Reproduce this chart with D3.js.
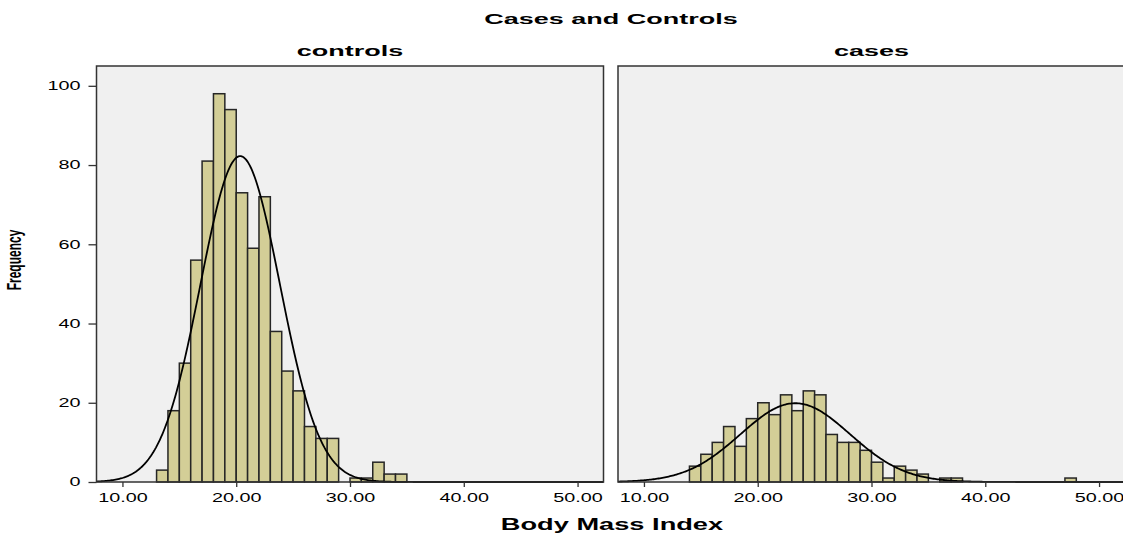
<!DOCTYPE html>
<html>
<head>
<meta charset="utf-8">
<script src="https://cdn.jsdelivr.net/npm/d3@7"></script>
<style>
    body { margin: 0; background: #fff; }
    #visualization { width: 1123px; height: 533px; }
    text { font-family: "Liberation Sans", Arial, sans-serif; fill: #000; }
</style>
</head>
<body>
<div id="visualization"></div>
<script>
// ---------DATA---------
// lower edge of each 1-unit BMI bin and its frequency
var controlsLower = [13, 14, 15, 16, 17, 18, 19, 20, 21, 22, 23, 24, 25, 26, 27, 28, 30, 31, 32, 33, 34];
var controlsCount = [3, 18, 30, 56, 81, 98, 94, 73, 59, 72, 38, 28, 23, 14, 11, 11, 1, 1, 5, 2, 2];

var casesLower = [14, 15, 16, 17, 18, 19, 20, 21, 22, 23, 24, 25, 26, 27, 28, 29, 30, 31, 32, 33, 34, 36, 37, 47];
var casesCount = [4, 7, 10, 14, 9, 16, 20, 17, 22, 18, 23, 22, 12, 10, 10, 8, 5, 1, 4, 3, 2, 1, 1, 1];

var panelNames = ["controls", "cases"];
var xTicks = [10, 20, 30, 40, 50];
var yTicks = [0, 20, 40, 60, 80, 100];

var width = 1123;
var height = 533;

var svg = d3.select("#visualization").append("svg")
    .attr("width", width)
    .attr("height", height);

var y = d3.scaleLinear()
    .domain([0, 105])
    .range([482, 66]);

var panels = [
    { name: panelNames[0], lower: controlsLower, count: controlsCount, left: 96.5 },
    { name: panelNames[1], lower: casesLower, count: casesCount, left: 618 }
];

// the reference is stretched sideways, so its text is too
function stretchedText(x, yPos, str, size, weight, scaleX) {
    return svg.append("g")
        .attr("transform", "translate(" + x + "," + yPos + ") scale(" + scaleX + ",1)")
        .append("text")
        .attr("text-anchor", "middle")
        .style("font-size", size + "px")
        .style("font-weight", weight)
        .text(str);
}

// ---------TITLES---------
stretchedText(611, 24, "Cases and Controls", 15, "bold", 1.8);
stretchedText(612, 530, "Body Mass Index", 16.5, "bold", 1.65);

svg.append("g")
    .attr("transform", "translate(21,260) scale(1.75,1) rotate(-90)")
    .append("text")
    .attr("text-anchor", "middle")
    .style("font-size", "12px")
    .style("font-weight", "bold")
    .text("Frequency");

// ---------PANELS---------
panels.forEach(function(p, i) {
    var x = d3.scaleLinear()
        .domain([7.72, 52.28])
        .range([p.left, p.left + 507]);

    var bins = p.lower.map(function(lo, j) {
        return { lo: lo, hi: lo + 1, n: p.count[j] };
    });

    var total = d3.sum(bins, function(d) { return d.n; });
    var mean = d3.sum(bins, function(d) { return d.n * (d.lo + 0.5); }) / total;
    var variance = d3.sum(bins, function(d) {
        return d.n * Math.pow(d.lo + 0.5 - mean, 2);
    }) / (total - 1);
    var sd = Math.sqrt(variance);

    var g = svg.append("g").attr("class", "panel");

    g.append("rect")
        .attr("x", x.range()[0])
        .attr("y", y.range()[1])
        .attr("width", x.range()[1] - x.range()[0])
        .attr("height", y.range()[0] - y.range()[1])
        .attr("fill", "#f0f0f0");

    g.selectAll(".bar")
        .data(bins)
        .enter().append("rect")
        .attr("class", "bar")
        .attr("x", function(d) { return x(d.lo); })
        .attr("y", function(d) { return y(d.n); })
        .attr("width", function(d) { return x(d.hi) - x(d.lo); })
        .attr("height", function(d) { return y(0) - y(d.n); })
        .attr("fill", "#d3ce97")
        .attr("stroke", "#262626")
        .attr("stroke-width", 1.5);

    // normal curve scaled to counts per 1-unit bin
    var pts = d3.range(0, 401).map(function(k) {
        var v = x.domain()[0] + k * (x.domain()[1] - x.domain()[0]) / 400;
        var f = total / (sd * Math.sqrt(2 * Math.PI)) * Math.exp(-0.5 * Math.pow((v - mean) / sd, 2));
        return [v, f];
    });

    g.append("path")
        .datum(pts)
        .attr("fill", "none")
        .attr("stroke", "#000")
        .attr("stroke-width", 1.8)
        .attr("d", d3.line()
            .x(function(d) { return x(d[0]); })
            .y(function(d) { return y(d[1]); }));

    g.append("rect")
        .attr("x", x.range()[0])
        .attr("y", y.range()[1])
        .attr("width", x.range()[1] - x.range()[0])
        .attr("height", y.range()[0] - y.range()[1])
        .attr("fill", "none")
        .attr("stroke", "#333")
        .attr("stroke-width", 1.5);

    var xAxis = g.append("g")
        .attr("transform", "translate(0," + y(0) + ")")
        .call(d3.axisBottom(x).tickValues(xTicks).tickSize(5).tickFormat(d3.format(".2f")));
    xAxis.select(".domain").remove();
    xAxis.selectAll(".tick line").attr("stroke", "#333").attr("stroke-width", 1.3);
    xAxis.selectAll(".tick text")
        .attr("y", 11)
        .attr("transform", "scale(1.65,1)")
        .style("font-size", "12px")
        .style("font-family", "'Liberation Sans', Arial, sans-serif")
        .attr("fill", "#000");

    if (i === 0) {
        var yAxis = g.append("g")
            .attr("transform", "translate(" + x.range()[0] + ",0)")
            .call(d3.axisLeft(y).tickValues(yTicks).tickSize(8));
        yAxis.select(".domain").remove();
        yAxis.selectAll(".tick line").attr("stroke", "#333").attr("stroke-width", 1.3);
        yAxis.selectAll(".tick text")
            .attr("x", -16 / 1.65)
            .attr("transform", "scale(1.65,1)")
            .style("font-size", "12px")
            .style("font-family", "'Liberation Sans', Arial, sans-serif")
            .attr("fill", "#000");
    }

    stretchedText((x.range()[0] + x.range()[1]) / 2, 56, p.name, 15, "bold", 1.8);
});
</script>
</body>
</html>
